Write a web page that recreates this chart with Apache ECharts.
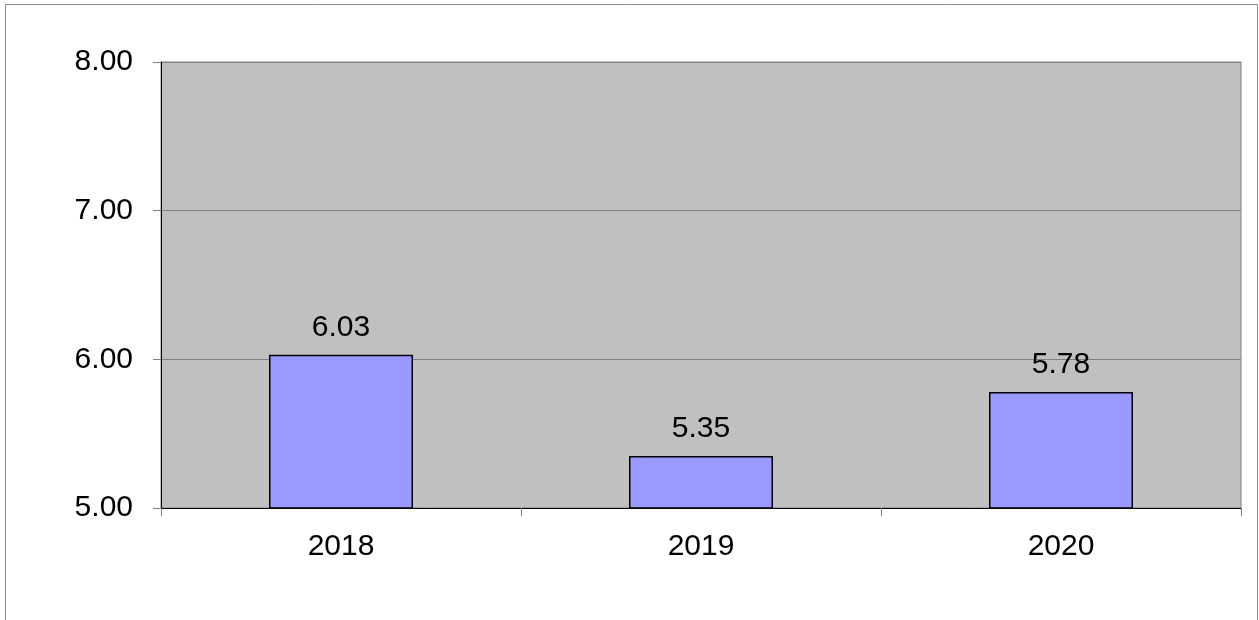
<!DOCTYPE html>
<html><head><meta charset="utf-8">
<script src="https://cdn.jsdelivr.net/npm/echarts@6/dist/echarts.min.js"></script>
<style>html,body{margin:0;padding:0;background:#fff}#c{width:1259px;height:620px}</style>
</head><body><div id="c"></div>
<script>
const categories = ['2018', '2019', '2020'];
const values = [6.03, 5.35, 5.78];
const yMin = 5, yMax = 8, yStep = 1;

const chart = echarts.init(document.getElementById('c'), null, {renderer: 'canvas'});
const font = 'Liberation Sans, Arial, sans-serif';
chart.setOption({
  animation: false,
  graphic: [{
    type: 'rect', shape: {x: 5.5, y: 4.5, width: 1252, height: 640},
    style: {fill: null, stroke: '#8c8c8c', lineWidth: 1}, silent: true, z: -10
  }],
  grid: {left: 161, right: 18, top: 62, bottom: 112, show: true,
         backgroundColor: '#C0C0C0', borderColor: '#808080', borderWidth: 1},
  xAxis: {
    type: 'category', data: categories,
    axisLine: {lineStyle: {color: '#000', width: 1}},
    axisTick: {show: true, length: 8, lineStyle: {color: '#808080'}},
    axisLabel: {color: '#000', fontSize: 30, fontFamily: font, margin: 24}
  },
  yAxis: {
    type: 'value', min: yMin, max: yMax, interval: yStep,
    axisLine: {show: true, lineStyle: {color: '#000', width: 1}},
    axisTick: {show: true, length: 8, lineStyle: {color: '#808080'}},
    splitLine: {show: true, lineStyle: {color: '#808080', width: 1}},
    axisLabel: {color: '#000', fontSize: 30, fontFamily: font, margin: 28,
                formatter: v => v.toFixed(2)}
  },
  series: [{
    type: 'bar', data: values, barWidth: 144,
    itemStyle: {color: '#9999FF', borderColor: '#000', borderWidth: 1.5},
    label: {show: true, position: 'top', distance: 12, color: '#000',
            fontSize: 30, fontFamily: font, formatter: p => p.value.toFixed(2)}
  }]
});
</script></body></html>
